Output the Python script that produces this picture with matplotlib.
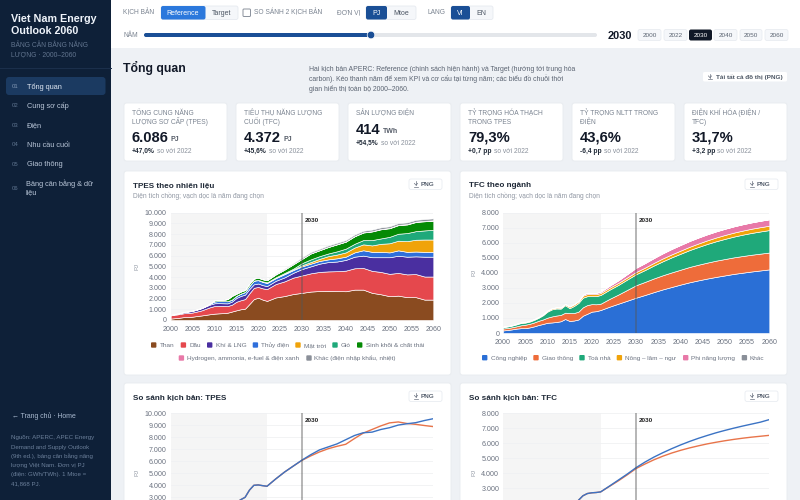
import matplotlib
matplotlib.use("Agg")
import matplotlib.pyplot as plt
from matplotlib.patches import FancyBboxPatch, Circle, Rectangle

plt.rcParams['font.family'] = ['Liberation Sans', 'DejaVu Sans']

years = list(range(2000, 2023)) + list(range(2024, 2061, 2))
selected_year = 2030
history_end = 2022

# TPES by fuel (PJ)
tpes_than = [130,170,210,270,280,310,370,420,480,540,590,620,640,680,790,900,1000,1060,1500,1950,2080,1900,1780,
             2100,2230,2420,2530,2650,2700,2720,2700,2680,2830,2830,2530,2400,2220,2270,2130,2130,1900,1900]
tpes_dau = [300,320,340,360,370,390,420,470,560,650,710,690,680,620,640,800,840,890,1000,1050,1000,1050,1100,
            1250,1370,1530,1620,1700,1780,1810,1850,1920,1990,2020,2050,2080,2080,2120,2120,2150,2150,2150]
tpes_khi = [40,50,70,100,130,150,170,200,230,250,260,260,240,250,290,350,400,420,400,330,320,300,280,
            300,370,450,600,650,770,870,900,1000,1080,1150,1270,1370,1550,1600,1650,1650,1850,1850]
tpes_thuy = [10,10,15,20,30,30,30,30,40,100,180,190,200,200,190,200,220,250,300,340,310,300,280,
             250,300,250,250,250,250,250,300,300,400,500,500,500,450,500,450,450,450,450]
tpes_mattroi = [0,0,0,0,0,0,0,0,0,0,0,0,0,0,0,0,0,0,0,10,30,40,50,
                50,50,50,100,150,200,300,350,400,450,550,600,750,850,900,1000,1100,1150,1150]
tpes_gio = [0,0,0,0,0,0,0,0,0,0,0,0,0,0,0,0,0,0,0,0,0,10,20,
            30,60,80,200,250,250,250,300,350,350,400,500,500,600,650,750,800,850,900]
tpes_sinhkhoi = [0,0,0,0,0,0,0,0,0,0,100,100,110,200,340,200,190,180,200,180,200,200,200,
                 270,320,420,400,550,550,600,650,650,700,700,800,850,800,800,800,850,850,850]
tpes_hydrogen = [0,0,0,0,0,0,0,0,0,0,0,0,0,0,0,0,0,0,0,0,0,0,0,
                 0,0,0,5,10,10,15,15,20,20,25,25,30,30,35,35,40,40,40]
tpes_khac = [20,20,20,20,20,20,20,20,20,20,40,40,40,40,50,50,50,50,60,60,60,60,60,
             70,80,90,120,120,120,130,130,130,140,140,150,150,150,150,160,160,170,180]

# TFC by sector (PJ)
tfc_congnghiep = [170,200,240,290,320,320,370,440,530,600,680,700,730,780,930,800,830,900,1150,1280,1420,1450,1530,
                  1750,1950,2150,2350,2530,2720,2900,3060,3220,3370,3500,3620,3730,3830,3930,4010,4090,4160,4230]
tfc_giaothong = [130,130,140,150,190,230,240,260,280,300,340,400,430,420,420,530,500,520,560,580,500,460,420,
                 520,610,720,830,870,910,940,970,990,1020,1040,1060,1080,1090,1100,1110,1115,1118,1120]
tfc_toanha = [90,100,110,130,150,140,150,170,200,280,400,470,470,420,500,320,470,580,640,590,530,540,580,
              610,640,690,730,790,860,930,1000,1060,1120,1180,1240,1290,1340,1380,1420,1450,1475,1495]
tfc_nonglam = [30,30,30,40,40,40,50,50,50,50,60,70,70,70,70,100,100,100,130,140,130,130,130,
               130,135,140,150,160,175,190,200,210,220,230,240,250,260,265,270,280,285,290]
tfc_phinangluong = [0,0,0,0,0,0,0,0,5,5,10,10,10,10,15,20,30,40,70,90,90,90,90,
                    130,170,220,280,300,320,340,360,375,385,395,400,405,410,415,420,420,425,425]
tfc_khac = [0,0,0,0,0,0,0,0,0,0,0,0,0,0,0,0,0,0,0,0,0,0,0,
            0,0,0,0,0,0,0,0,0,0,0,0,0,0,0,0,0,0,0]

# Scenario totals (PJ)
cmp_tpes_ref = [480,540,600,680,760,850,950,1050,1200,1400,1850,1950,1980,2000,2350,2550,2800,3000,3600,4000,4030,3970,3920,
                4530,5100,5600,6100,6550,6950,7200,7450,7800,8150,8380,8430,8650,8800,9020,9130,9220,9400,9550]
cmp_tpes_tgt = [480,540,600,680,760,850,950,1050,1200,1400,1850,1950,1980,2000,2350,2550,2800,3000,3600,4000,4030,3970,3920,
                4530,5100,5600,6080,6450,6780,7050,7250,7420,7900,8350,8650,8950,9200,9280,9150,9080,8980,8890]
cmp_tfc_ref = [420,460,520,610,680,680,750,870,1010,1200,1500,1580,1600,1600,1850,1650,1800,2200,2500,2650,2700,2720,2760,
               3150,3550,3950,4380,4750,5080,5370,5640,5890,6120,6330,6520,6700,6860,7010,7150,7280,7410,7580]
cmp_tfc_tgt = [420,460,520,610,680,680,750,870,1010,1200,1500,1580,1600,1600,1850,1650,1800,2200,2500,2650,2700,2720,2760,
               3130,3500,3900,4320,4620,4900,5140,5350,5530,5690,5830,5960,6070,6170,6260,6340,6410,6470,6530]

tpes_labels = ["Than","Dầu","Khí & LNG","Thủy điện","Mặt trời","Gió","Sinh khối & chất thải",
               "Hydrogen, ammonia, e-fuel & điện xanh","Khác (điện nhập khẩu, nhiệt)"]
tpes_colors = ["#8a4b20","#e5484d","#4a2fa0","#2f6fdb","#f0a30a","#1fa97a","#058a05","#e879a8","#8a8f98"]
tfc_labels = ["Công nghiệp","Giao thông","Toà nhà","Nông – lâm – ngư","Phi năng lượng","Khác"]
tfc_colors = ["#2a6fd6","#ee6c3a","#1fa97a","#f0a30a","#e879a8","#8a8f98"]
x_ticks = list(range(2000, 2061, 5))
tpes_yticks = list(range(0, 10001, 1000))
tfc_yticks = list(range(0, 8001, 1000))
tpes_cmp_yticks = list(range(3000, 10001, 1000))
tfc_cmp_yticks = list(range(3000, 8001, 1000))

kpi_titles = [["TỔNG CUNG NĂNG","LƯỢNG SƠ CẤP (TPES)"],["TIÊU THỤ NĂNG LƯỢNG","CUỐI (TFC)"],["SẢN LƯỢNG ĐIỆN"],
              ["TỶ TRỌNG HÓA THẠCH","TRONG TPES"],["TỶ TRỌNG NLTT TRONG","ĐIỆN"],["ĐIỆN KHÍ HÓA (ĐIỆN /","TFC)"]]
kpi_values = ["6.086","4.372","414","79,3%","43,6%","31,7%"]
kpi_units = ["PJ","PJ","TWh","","",""]
kpi_deltas = ["+47,0%","+45,6%","+54,5%","+0,7 pp","-6,4 pp","+3,2 pp"]
nav_items = ["Tổng quan","Cung sơ cấp","Điện","Nhu cầu cuối","Giao thông"]
year_buttons = ["2000","2022","2030","2040","2050","2060"]

W, H = 800, 500
fig = plt.figure(figsize=(W/100, H/100), dpi=100, facecolor="#eef1f5")
ui = fig.add_axes([0, 0, 1, 1], zorder=0)
ui.set_xlim(0, W); ui.set_ylim(H, 0); ui.axis("off")
rend = fig.canvas.get_renderer()

def T(x, y, s, px=8, color="#1f2937", weight="normal", ha="left", z=5, rot=0):
    return ui.text(x, y + 0.35*px, s, fontsize=px*0.72, color=color, fontweight=weight, ha=ha, va="baseline", zorder=z, rotation=rot)

def box(x0, y0, x1, y1, fc="white", ec="none", r=2, lw=0.6, z=2):
    ui.add_patch(FancyBboxPatch((x0, y0), x1-x0, y1-y0, boxstyle=f"round,pad=0,rounding_size={r}",
                                fc=fc, ec=ec, lw=lw, zorder=z))

def dl_icon(cx, cy, color="#6b7280"):
    ui.plot([cx, cx], [cy-2.6, cy+1], color=color, lw=0.5, zorder=5)
    ui.plot([cx-1.6, cx, cx+1.6], [cy-0.6, cy+1.2, cy-0.6], color=color, lw=0.5, zorder=5)
    ui.plot([cx-2.4, cx+2.4], [cy+2.6, cy+2.6], color=color, lw=0.5, zorder=5)

# sidebar
ui.add_patch(Rectangle((0, 0), 111, H, fc="#0e2038", ec="none", zorder=1))
T(11, 18, "Viet Nam Energy", 10.7, "#eef3fa", "bold")
T(11, 30.5, "Outlook 2060", 10.7, "#eef3fa", "bold")
T(11, 44.5, "BẢNG CÂN BẰNG NĂNG", 6.8, "#62758f")
T(11, 53.5, "LƯỢNG · 2000–2060", 6.8, "#62758f")
ui.plot([0, 111], [68, 68], color="#1c304c", lw=0.7, zorder=2)
box(6, 77, 105.5, 95, fc="#1b3a61", r=3)
nav_y = [86, 105, 124.5, 144, 163.5]
for i, (name, y) in enumerate(zip(nav_items, nav_y)):
    T(12, y, f"{i+1:02d}", 6, "#5f7590" if i else "#7f95b2")
    T(27, y, name, 7.4, "#dfe7f2" if i == 0 else "#b9c6d8")
T(12, 187.5, "06", 6, "#5f7590")
T(26, 183, "Bảng cân bằng & dữ", 7.4, "#b9c6d8")
T(26, 191.5, "liệu", 7.4, "#b9c6d8")
T(12, 415.5, "← Trang chủ · Home", 6.9, "#a9bad0")
src = ["Nguồn: APERC, APEC Energy","Demand and Supply Outlook","(9th ed.), bảng cân bằng năng",
       "lượng Việt Nam. Đơn vị PJ","(điện: GWh/TWh). 1 Mtoe =","41,868 PJ."]
for line, y in zip(src, [437, 446.5, 455.5, 465, 474, 483]):
    T(11, y, line, 6.2, "#6c809b")

# top bar
ui.add_patch(Rectangle((111, 0), W-111, 48, fc="white", ec="none", zorder=1))
LAB = "#7b8491"
T(123, 12, "KỊCH BẢN", 6.7, LAB)
box(161, 6, 238, 19.5, fc="#f5f7fa", ec="#e6eaf0", r=2)
box(161, 6, 205.5, 19.5, fc="#2b78dc", r=2, z=3)
T(183, 12.7, "Reference", 7, "white", ha="center")
T(222, 12.7, "Target", 7, "#4b5563", ha="center")
box(243, 9, 250.5, 16.5, fc="white", ec="#8a919c", r=1, lw=0.7)
T(254, 12, "SO SÁNH 2 KỊCH BẢN", 6.7, LAB)
T(337, 12, "ĐƠN VỊ", 6.7, LAB)
box(366, 6, 416, 19.5, fc="#f5f7fa", ec="#e6eaf0", r=2)
box(366, 6, 387, 19.5, fc="#1a4f96", r=2, z=3)
T(376.5, 12.7, "PJ", 7, "white", ha="center")
T(401, 12.7, "Mtoe", 7, "#4b5563", ha="center")
T(427, 12, "LANG", 6.7, LAB)
box(451, 6, 493, 19.5, fc="#f5f7fa", ec="#e6eaf0", r=2)
box(451, 6, 470, 19.5, fc="#1a4f96", r=2, z=3)
T(460.5, 12.7, "VI", 7, "white", ha="center")
T(481.5, 12.7, "EN", 7, "#4b5563", ha="center")
T(123, 35, "NĂM", 6.7, LAB)
box(144, 33, 597, 37, fc="#e3e6ea", r=2)
box(144, 33, 371, 37, fc="#1a4f96", r=2, z=3)
ui.add_patch(Circle((371, 35), 3.8, fc="#1a4f96", ec="white", lw=0.5, zorder=4))
T(608, 35, "2030", 11, "#111827", "bold")
btn_x = [(638, 661), (664, 687), (689, 712), (714, 737), (740, 762), (765, 788)]
for lab, (a, b) in zip(year_buttons, btn_x):
    on = lab == str(selected_year)
    box(a, 29.5, b, 40.5, fc="#101827" if on else "#f5f7fa", ec="none" if on else "#e9ecf1", r=2)
    T((a+b)/2, 35, lab, 6.4, "white" if on else "#5b6472", ha="center")

# heading
T(123, 67.5, "Tổng quan", 12.3, "#111827", "bold")
intro = ["Hai kịch bản APERC: Reference (chính sách hiện hành) và Target (hướng tới trung hòa",
         "carbon). Kéo thanh năm để xem KPI và cơ cấu tại từng năm; các biểu đồ chuỗi thời",
         "gian hiển thị toàn bộ 2000–2060."]
for line, y in zip(intro, [69, 79, 89]):
    T(309, y, line, 6.9, "#5b6472")
box(703, 72, 787, 81.5, fc="white", r=1.5)
dl_icon(710, 76.5)
T(716, 76.7, "Tải tất cả đồ thị (PNG)", 6.4, "#4b5563", "bold")

# KPI cards
kpi_x = [124, 236, 348, 460, 572, 684]
for x, lines, val, unit, delta in zip(kpi_x, kpi_titles, kpi_values, kpi_units, kpi_deltas):
    box(x, 103, x+103, 161, fc="white", ec="#e7eaef", r=2.5)
    for j, line in enumerate(lines):
        T(x+8, 113 + j*8.7, line, 6.7, LAB)
    two = len(lines) == 2
    vy, dy = (136.5, 151) if two else (129, 143)
    t = T(x+8, vy, val, 14.7, "#111827", "bold")
    vw = t.get_window_extent(rend).width
    if unit:
        T(x+8+vw+2, vy+1.8, unit, 7, "#555c68", "bold")
    d = T(x+8, dy, delta, 6.6, "#1f2937", "bold")
    dw = d.get_window_extent(rend).width
    T(x+8+dw+2, dy, "so với 2022", 6.6, "#8a919c")

def make_axes(x0, x1, ytop, ybot, ymax, yticks, xlabels=True):
    ax = fig.add_axes([x0/W, 1-ybot/H, (x1-x0)/W, (ybot-ytop)/H], zorder=3)
    ax.patch.set_alpha(0)
    ax.set_xlim(2000, 2060); ax.set_ylim(0, ymax)
    for s in ax.spines.values():
        s.set_visible(False)
    ax.set_xticks(x_ticks if xlabels else []); ax.set_yticks(yticks)
    ax.set_yticklabels([f"{v:,}".replace(",", ".") for v in yticks])
    ax.tick_params(axis="x", length=0, labelsize=5.1, labelcolor="#6b7280", pad=4.3)
    ax.tick_params(axis="y", length=0, labelsize=5.1, labelcolor="#6b7280", pad=2.7)
    ax.grid(axis="y", color="#f0f1f3", lw=0.6)
    ax.set_axisbelow(True)
    ax.axvspan(2000, history_end, color="#f5f5f5", lw=0, zorder=0)
    return ax

def finish(ax):
    ax.axvline(selected_year, color="#555555", lw=1.1, alpha=0.55, zorder=6)
    ax.annotate(str(selected_year), (selected_year, 1), xycoords=("data", "axes fraction"),
                xytext=(2, -5.5), textcoords="offset points", fontsize=4.6, fontweight="bold",
                color="#222222", va="center", ha="left", zorder=7)

def card(x0, x1, y0, y1, title, sub=None):
    box(x0, y0, x1, y1, fc="white", ec="#e7eaef", r=2.5)
    T(x0+9, y0+13, title, 8.2, "#1f2937", "bold")
    if sub:
        T(x0+9, y0+25, sub, 6.7, "#9097a3")
    box(x1-42, y0+8, x1-9, y0+18.5, fc="white", ec="#e9ecf1", r=2)
    dl_icon(x1-35, y0+13)
    T(x1-30, y0+13.2, "PNG", 6.4, "#5b6472", "bold")

def legend(items, colors, xs, tx, y):
    for lab, col, a, b in zip(items, colors, xs, tx):
        box(a, y-2.7, a+5.4, y+2.7, fc=col, r=1, z=3)
        T(b, y, lab, 6.4, "#6b7280")

SUB = "Diện tích chồng; vạch dọc là năm đang chọn"
card(124, 451, 171, 375, "TPES theo nhiên liệu", SUB)
card(460, 787, 171, 375, "TFC theo ngành", SUB)
card(124, 451, 383, 560, "So sánh kịch bản: TPES")
card(460, 787, 383, 560, "So sánh kịch bản: TFC")

ax1 = make_axes(170.7, 433.3, 212.7, 320, 10000, tpes_yticks)
ax1.stackplot(years, tpes_than, tpes_dau, tpes_khi, tpes_thuy, tpes_mattroi, tpes_gio, tpes_sinhkhoi,
              tpes_hydrogen, tpes_khac, colors=tpes_colors, edgecolor="white", linewidth=0.45, zorder=2)
finish(ax1)
T(137.3, 266.7, "PJ", 6, "#9097a3", ha="center", rot=90)
legend(tpes_labels[:7], tpes_colors[:7], [151, 180.7, 207, 252.7, 295.3, 332.3, 357],
       [160, 189, 215.7, 261, 303.7, 340.7, 365.7], 345)
legend(tpes_labels[7:], tpes_colors[7:], [178.7, 306.3], [187, 314.3], 358)

ax2 = make_axes(503, 769.3, 212.7, 333, 8000, tfc_yticks)
ax2.stackplot(years, tfc_congnghiep, tfc_giaothong, tfc_toanha, tfc_nonglam, tfc_phinangluong, tfc_khac,
              colors=tfc_colors, edgecolor="white", linewidth=0.45, zorder=2)
finish(ax2)
T(474, 273, "PJ", 6, "#9097a3", ha="center", rot=90)
legend(tfc_labels, tfc_colors, [482, 533.3, 579.3, 616.7, 683, 741.7],
       [490.7, 541.7, 588, 625.3, 691.3, 750], 357.7)

ax3 = make_axes(170.7, 433.3, 413.3, 533.3, 10000, tpes_cmp_yticks, xlabels=False)
ax3.plot(years, cmp_tpes_tgt, color="#e8744a", lw=1.0, zorder=3)
ax3.plot(years, cmp_tpes_ref, color="#3b73c4", lw=1.0, zorder=4)
finish(ax3)
T(137.3, 473, "PJ", 6, "#9097a3", ha="center", rot=90)

ax4 = make_axes(503, 769.3, 413.3, 533.3, 8000, tfc_cmp_yticks, xlabels=False)
ax4.plot(years, cmp_tfc_tgt, color="#e8744a", lw=1.0, zorder=3)
ax4.plot(years, cmp_tfc_ref, color="#3b73c4", lw=1.0, zorder=4)
finish(ax4)
T(474, 473, "PJ", 6, "#9097a3", ha="center", rot=90)

fig.savefig("out.png", dpi=100, facecolor=fig.get_facecolor())
